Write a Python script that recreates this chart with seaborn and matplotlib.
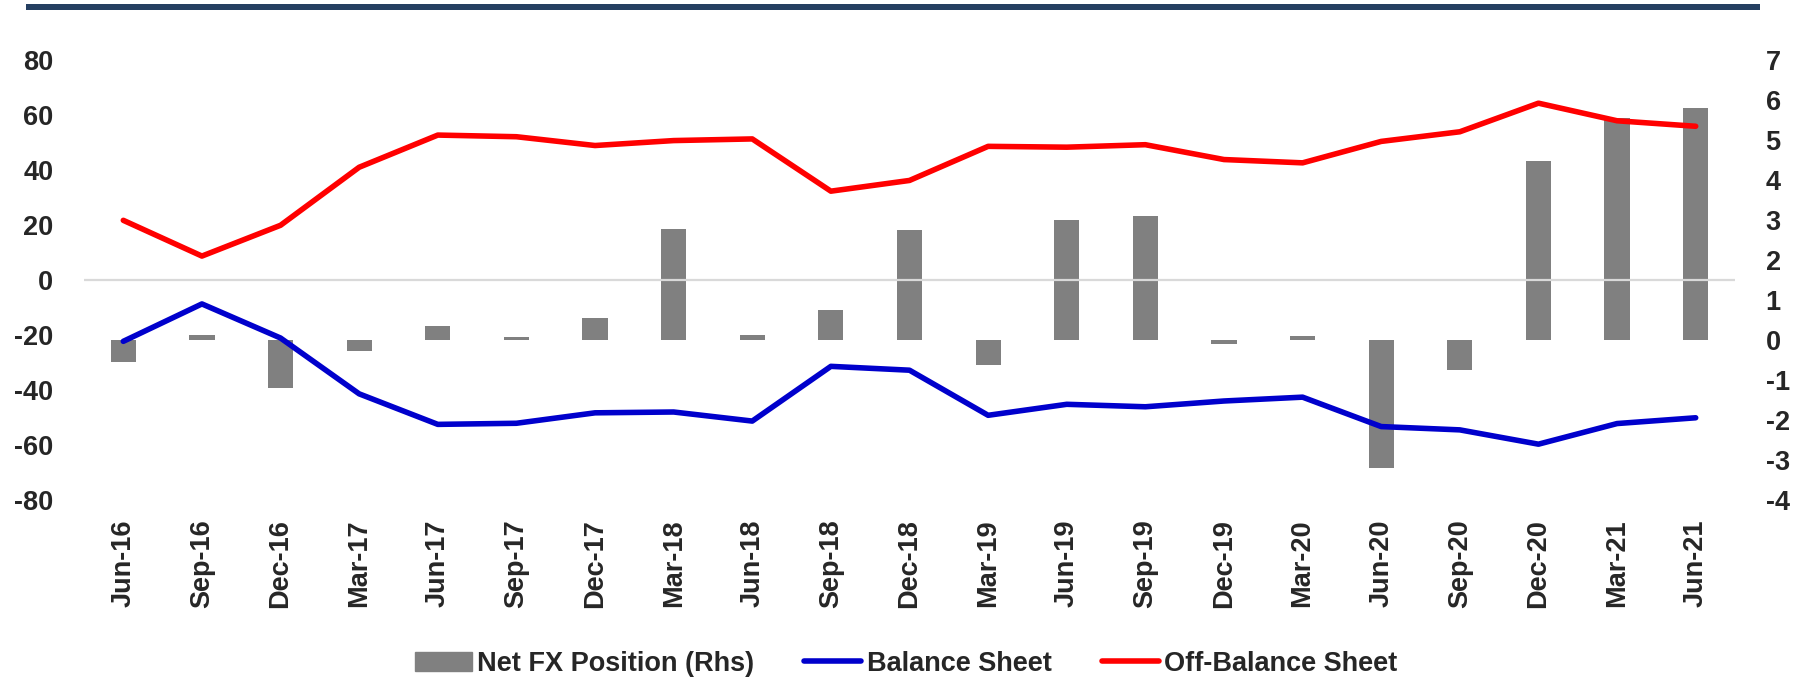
import numpy as np
import pandas as pd
import seaborn as sns
import matplotlib.pyplot as plt
from matplotlib.patches import Patch, Rectangle
from matplotlib.lines import Line2D

# Data
quarters = ["Jun-16", "Sep-16", "Dec-16", "Mar-17", "Jun-17", "Sep-17", "Dec-17",
            "Mar-18", "Jun-18", "Sep-18", "Dec-18", "Mar-19", "Jun-19", "Sep-19",
            "Dec-19", "Mar-20", "Jun-20", "Sep-20", "Dec-20", "Mar-21", "Jun-21"]
net_fx = [-0.55, 0.12, -1.2, -0.27, 0.35, 0.07, 0.56, 2.77, 0.12, 0.75, 2.74,
          -0.62, 2.99, 3.09, -0.11, 0.1, -3.21, -0.74, 4.47, 5.54, 5.8]
balance_sheet = [-22.3, -8.7, -21.1, -41.4, -52.5, -52.1, -48.3, -48.0, -51.3, -31.4,
                 -32.8, -49.2, -45.2, -46.1, -44.0, -42.6, -53.3, -54.5, -59.7, -52.2, -50.1]
off_balance = [21.7, 8.7, 19.9, 41.0, 52.7, 52.1, 48.9, 50.7, 51.3, 32.3,
               36.2, 48.6, 48.3, 49.2, 43.8, 42.6, 50.4, 53.9, 64.3, 57.9, 55.9]

df = pd.DataFrame({
    "quarter": quarters,
    "pos": np.arange(len(quarters)),
    "net_fx": net_fx,
    "balance": balance_sheet,
    "off_balance": off_balance,
})

sns.set_style("white")
plt.rcParams["font.family"] = ["Liberation Sans", "DejaVu Sans"]
plt.rcParams["font.weight"] = "bold"
plt.rcParams["axes.unicode_minus"] = False
FS = 19.5
LW = 4.0

fig, ax = plt.subplots(figsize=(18.05, 6.8), dpi=100)
fig.subplots_adjust(left=84 / 1805, right=1735 / 1805, top=1 - 60 / 680, bottom=1 - 500 / 680)
ax2 = ax.twinx()

# bars on the right axis
sns.barplot(data=df, x="pos", y="net_fx", ax=ax2, native_scale=True, width=0.32,
            color="#808080", saturation=1, linewidth=0, errorbar=None)

# lines on the left axis
ax.axhline(0, color="#d9d9d9", lw=1.6, zorder=1)
sns.lineplot(data=df, x="pos", y="balance", ax=ax, color="#0000cc", lw=LW,
             solid_capstyle="round", solid_joinstyle="round", zorder=3)
sns.lineplot(data=df, x="pos", y="off_balance", ax=ax, color="#ff0000", lw=LW,
             solid_capstyle="round", solid_joinstyle="round", zorder=3)

ax.set_zorder(ax2.get_zorder() + 1)
ax.patch.set_visible(False)

n = len(quarters)
ax.set_xlim(-0.5, n - 0.5)
ax.set_ylim(-80, 80)
ax.set_yticks(range(-80, 81, 20))
ax2.set_ylim(-4, 7)
ax2.set_yticks(range(-4, 8))
ax.set_xticks(df["pos"])
ax.set_xticklabels(quarters, rotation=90, fontsize=FS, fontweight="bold")

ax.tick_params(axis="y", length=0, pad=22, labelsize=FS)
ax2.tick_params(axis="y", length=0, pad=22, labelsize=FS)
ax.tick_params(axis="x", length=0, pad=14)
for t in ax.get_yticklabels() + ax2.get_yticklabels():
    t.set_fontweight("bold")

for a in (ax, ax2):
    a.set_xlabel("")
    a.set_ylabel("")
    for s in a.spines.values():
        s.set_visible(False)
    a.grid(False)

# dark rule along the top
fig.add_artist(Rectangle((26 / 1805, 1 - 10 / 680), (1760 - 26) / 1805, 6 / 680,
                         transform=fig.transFigure, color="#253f61", lw=0))

handles = [Patch(color="#808080"),
           Line2D([], [], color="#0000cc", lw=LW, solid_capstyle="round"),
           Line2D([], [], color="#ff0000", lw=LW, solid_capstyle="round")]
labels = ["Net FX Position (Rhs)", "Balance Sheet", "Off-Balance Sheet"]
fig.legend(handles, labels, loc="center", bbox_to_anchor=(0.502, 0.024), ncol=3,
           frameon=False, handlelength=2.1, handletextpad=0.2,
           columnspacing=1.85, prop={"weight": "bold", "size": FS})

fig.savefig("out.png", dpi=100)
